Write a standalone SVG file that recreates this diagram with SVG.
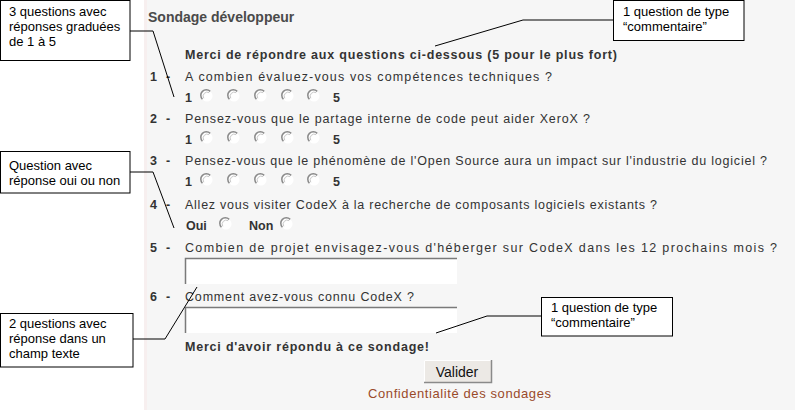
<svg xmlns="http://www.w3.org/2000/svg" width="795" height="410" viewBox="0 0 795 410">
<style>
.t{font-family:"Liberation Sans",Arial,sans-serif;font-size:12.5px;fill:#333}
.b{font-weight:bold}
.c{font-family:"Liberation Sans",Arial,sans-serif;font-size:13px;fill:#000}
.box{fill:#fff;stroke:#000;stroke-width:1}
.lead{fill:none;stroke:#000;stroke-width:1}
.tb{fill:#fff}
</style>
<defs>
<g id="radio">
<circle r="5.5" fill="#fff"/>
<path d="M-4.6,3.2 A5.5,5.5 0 0 1 3.2,-4.6" fill="none" stroke="#8a8a8a" stroke-width="1.5"/>
<path d="M-3.2,2.3 A4,4 0 0 1 2.2,-3.3" fill="none" stroke="#c8c8c8" stroke-width="1"/>
</g>
</defs>
<rect width="795" height="410" fill="#fff"/>
<rect x="144" y="0" width="651" height="410" fill="#f6f6f6"/>
<rect x="144" y="0" width="3" height="410" fill="#f7efef"/>

<g id="form">
<text class="t b" x="148" y="22" style="font-size:14px;fill:#4a4a4a">Sondage développeur</text>
<text class="t b" x="185" y="59" textLength="432" lengthAdjust="spacing">Merci de répondre aux questions ci-dessous (5 pour le plus fort)</text>

<text class="t b" x="150" y="81">1</text><text class="t b" x="166" y="81">-</text>
<text class="t" x="185" y="81" textLength="367" lengthAdjust="spacing">A combien évaluez-vous vos compétences techniques ?</text>
<text class="t b" x="185" y="102">1</text>
<use href="#radio" x="207" y="96"/><use href="#radio" x="234" y="96"/><use href="#radio" x="261" y="96"/><use href="#radio" x="288" y="96"/><use href="#radio" x="314" y="96"/>
<text class="t b" x="333" y="102">5</text>

<text class="t b" x="150" y="123">2</text><text class="t b" x="166" y="123">-</text>
<text class="t" x="185" y="123" textLength="405" lengthAdjust="spacing">Pensez-vous que le partage interne de code peut aider XeroX ?</text>
<text class="t b" x="185" y="144">1</text>
<use href="#radio" x="207" y="138"/><use href="#radio" x="234" y="138"/><use href="#radio" x="261" y="138"/><use href="#radio" x="288" y="138"/><use href="#radio" x="314" y="138"/>
<text class="t b" x="333" y="144">5</text>

<text class="t b" x="150" y="165">3</text><text class="t b" x="166" y="165">-</text>
<text class="t" x="185" y="165" textLength="582" lengthAdjust="spacing">Pensez-vous que le phénomène de l'Open Source aura un impact sur l'industrie du logiciel ?</text>
<text class="t b" x="185" y="186">1</text>
<use href="#radio" x="207" y="180"/><use href="#radio" x="234" y="180"/><use href="#radio" x="261" y="180"/><use href="#radio" x="288" y="180"/><use href="#radio" x="314" y="180"/>
<text class="t b" x="333" y="186">5</text>

<text class="t b" x="150" y="209">4</text><text class="t b" x="166" y="209">-</text>
<text class="t" x="185" y="209" textLength="472" lengthAdjust="spacing">Allez vous visiter CodeX à la recherche de composants logiciels existants ?</text>
<text class="t b" x="186" y="230">Oui</text>
<use href="#radio" x="226" y="224"/>
<text class="t b" x="249" y="230">Non</text>
<use href="#radio" x="287" y="224"/>

<text class="t b" x="150" y="252">5</text><text class="t b" x="166" y="252">-</text>
<text class="t" x="185" y="252" textLength="592" lengthAdjust="spacing">Combien de projet envisagez-vous d'héberger sur CodeX dans les 12 prochains mois ?</text>
<rect class="tb" x="185" y="258" width="272" height="26"/>
<path d="M185.5,284 V258.5 H457" fill="none" stroke="#7a7a7a" stroke-width="1.5"/>

<text class="t b" x="150" y="301">6</text><text class="t b" x="166" y="301">-</text>
<text class="t" x="185" y="301" textLength="229" lengthAdjust="spacing">Comment avez-vous connu CodeX ?</text>
<rect class="tb" x="185" y="307" width="272" height="26"/>
<path d="M185.5,333 V307.5 H457" fill="none" stroke="#7a7a7a" stroke-width="1.5"/>

<text class="t b" x="185" y="351" textLength="244" lengthAdjust="spacing">Merci d'avoir répondu à ce sondage!</text>

<rect x="424" y="360" width="68" height="23" fill="#ece9e5"/>
<path d="M424.5,383 V360.5 H492" fill="none" stroke="#fff" stroke-width="1"/>
<path d="M424,382.5 H491.5 V360" fill="none" stroke="#8a8a8a" stroke-width="1.5"/>
<text class="t" x="457" y="377" text-anchor="middle" style="font-size:14px;fill:#111">Valider</text>
<text class="t" x="368" y="398" textLength="183" lengthAdjust="spacing" style="font-size:13px;fill:#9a4a2a">Confidentialité des sondages</text>
</g>

<g id="connectors">
<path class="lead" d="M130,31 H153 L174,97"/>
<path class="lead" d="M613,20 H523 L435,46"/>
<path class="lead" d="M130,172 H153 L174,228"/>
<path class="lead" d="M133,339 H165 L197,287"/>
<path class="lead" d="M541,316 H487 L436,333"/>
</g>

<g id="callout-graduees">
<rect class="box" x="0.5" y="0.5" width="129.5" height="60"/>
<text class="c" x="9" y="16">3 questions avec</text>
<text class="c" x="9" y="31">réponses graduées</text>
<text class="c" x="9" y="46">de 1 à 5</text>
</g>
<g id="callout-commentaire-1">
<rect class="box" x="613.5" y="0.5" width="130.5" height="40"/>
<text class="c" x="623" y="16">1 question de type</text>
<text class="c" x="623" y="31">“commentaire”</text>
</g>
<g id="callout-ouinon">
<rect class="box" x="0.5" y="151.5" width="129.5" height="41.5"/>
<text class="c" x="9" y="170">Question avec</text>
<text class="c" x="9" y="185">réponse oui ou non</text>
</g>
<g id="callout-texte">
<rect class="box" x="0.5" y="313.5" width="132.5" height="53.5"/>
<text class="c" x="9" y="328">2 questions avec</text>
<text class="c" x="9" y="343">réponse dans un</text>
<text class="c" x="9" y="358">champ texte</text>
</g>
<g id="callout-commentaire-2">
<rect class="box" x="541.5" y="297.5" width="131" height="38.5"/>
<text class="c" x="551" y="312">1 question de type</text>
<text class="c" x="551" y="327">“commentaire”</text>
</g>
</svg>
